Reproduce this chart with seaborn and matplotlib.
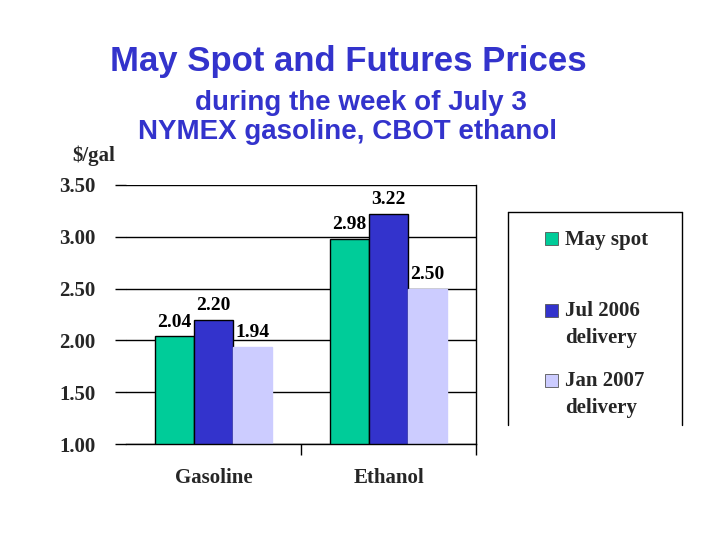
import numpy as np
import pandas as pd
import seaborn as sns
import matplotlib.pyplot as plt
from matplotlib.patches import Rectangle
from matplotlib.lines import Line2D

# chart data
fuels = ["Gasoline", "Ethanol"]
series = ["May spot", "Jul 2006\ndelivery", "Jan 2007\ndelivery"]
may_spot = [2.04, 2.98]
jul_2006 = [2.20, 3.22]
jan_2007 = [1.94, 2.50]
y_ticks = [1.00, 1.50, 2.00, 2.50, 3.00, 3.50]
colors = ["#00CC99", "#3333CC", "#CCCCFF"]

df = pd.DataFrame({
    "fuel": fuels * 3,
    "series": np.repeat(series, len(fuels)),
    "price": may_spot + jul_2006 + jan_2007,
})

sns.set_theme(style="white")
plt.rcParams["font.family"] = ["Liberation Serif", "DejaVu Serif"]

W, H = 720, 540
fig = plt.figure(figsize=(7.2, 5.4), dpi=100)


def fx(px):
    return px / W


def fy(py):
    return 1 - py / H


ax = fig.add_axes([fx(126), fy(444), fx(476) - fx(126), fy(185) - fy(444)])

sns.barplot(data=df, x="fuel", y="price", hue="series", palette=colors,
            width=0.67, saturation=1, edgecolor="black", linewidth=1,
            ax=ax, legend=False)

# light bars have no dark outline
for bar in ax.containers[2]:
    bar.set_edgecolor(colors[2])

for cont in ax.containers:
    ax.bar_label(cont, fmt="%.2f", padding=4, fontsize=14, fontweight="bold",
                 color="black")

ax.set_ylim(1.0, 3.5)
ax.set_yticks(y_ticks)
ax.set_yticklabels([f"{t:.2f}" for t in y_ticks], fontsize=15, fontweight="bold")
ax.yaxis.grid(True, color="black", linewidth=1)
ax.set_axisbelow(True)
ax.tick_params(axis="y", direction="out", length=8, width=1, color="black",
               left=True, pad=14)

ax.set_xlim(-0.5, 1.5)
ax.set_xticks([0, 1])
ax.set_xticklabels(fuels, fontsize=15, fontweight="bold")
ax.set_xticks([0.5, 1.5], minor=True)
ax.tick_params(axis="x", which="major", length=0, pad=17)
ax.tick_params(axis="x", which="minor", direction="out", length=8, width=1,
               color="black", bottom=True)
ax.set_xlabel("")
ax.set_ylabel("")

for side in ["left", "top"]:
    ax.spines[side].set_visible(False)
for side in ["right", "bottom"]:
    ax.spines[side].set_visible(True)
    ax.spines[side].set_color("black")
    ax.spines[side].set_linewidth(1)

# titles
blue = "#3333CC"
fig.text(fx(348), fy(61), "May Spot and Futures Prices", ha="center", va="center",
         fontsize=25, color=blue, family="Liberation Sans", fontweight="bold")
fig.text(fx(361), fy(103), "during the week of July 3", ha="center", va="center",
         fontsize=20, color=blue, family="Liberation Sans", fontweight="bold")
fig.text(fx(347), fy(132), "NYMEX gasoline, CBOT ethanol", ha="center", va="center",
         fontsize=20, color=blue, family="Liberation Sans", fontweight="bold")
fig.text(fx(72), fy(156), "$/gal", ha="left", va="center", fontsize=15,
         fontweight="bold")

# legend box (open at the bottom)
box_l, box_r, box_t, box_b = 508, 682, 212, 425
for xs, ys in [((box_l, box_l), (box_b, box_t)),
               ((box_l, box_r), (box_t, box_t)),
               ((box_r, box_r), (box_t, box_b))]:
    fig.add_artist(Line2D([fx(x) for x in xs], [fy(y) for y in ys],
                          color="black", linewidth=1))

legend_y = [238.5, 310, 380]
for label, color, cy in zip(series, colors, legend_y):
    fig.add_artist(Rectangle((fx(545), fy(cy + 6.5)), fx(13), 13 / H,
                             facecolor=color, edgecolor="#555555", linewidth=0.6))
    fig.text(fx(565), fy(cy - 9), label, ha="left", va="top", fontsize=15,
             fontweight="bold", linespacing=1.45)

fig.savefig("out.png", dpi=100)
